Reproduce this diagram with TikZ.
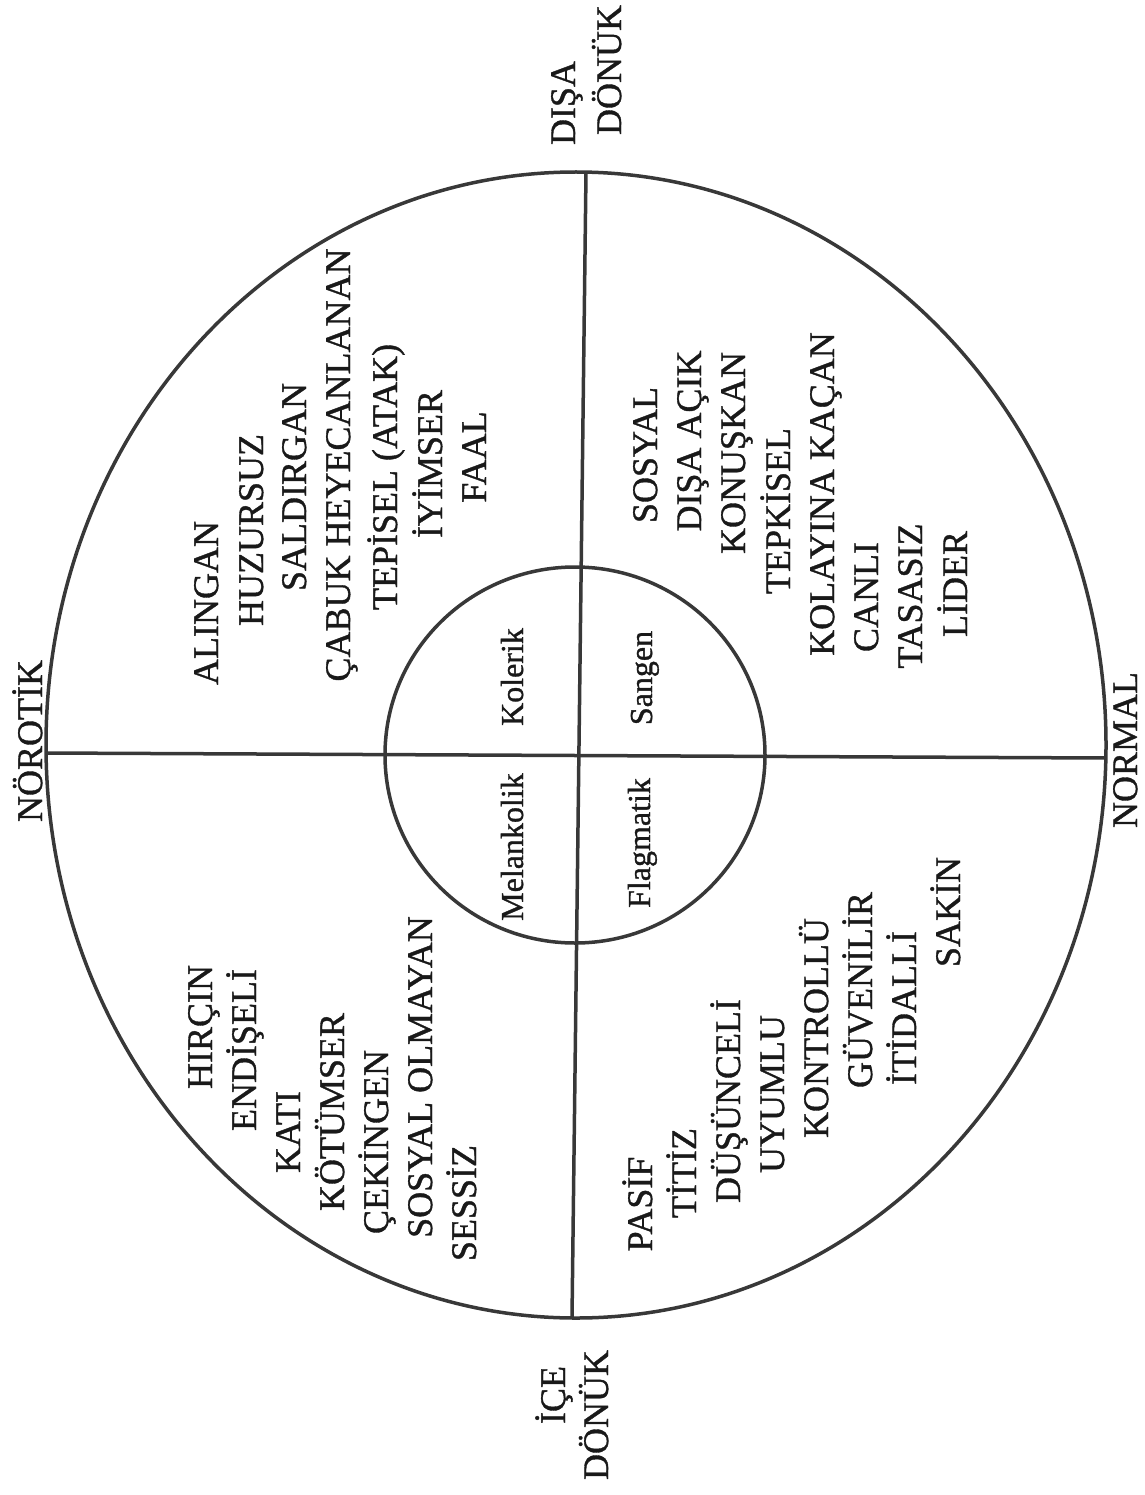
\documentclass[tikz,border=0pt]{standalone}
\usepackage{fontspec}
\usetikzlibrary{shapes.geometric}
\setmainfont[FakeBold=1]{Liberation Serif}
\begin{document}
\begin{tikzpicture}[x=1pt,y=-1pt,
  frame/.style={draw=black!78, line width=3.5pt},
  ring/.style={frame, ellipse, inner sep=0pt},
  word/.style={rotate=90, anchor=base, inner sep=0pt, text=black!90,
    font=\fontsize{36}{44}\selectfont},
  temper/.style={word, font=\fontsize{32}{38}\selectfont}]
\useasboundingbox (0,0) rectangle (1144,1495);
% circles
\node[ring, minimum width=1060pt, minimum height=1146pt] (outer) at (576,745) {};
\node[ring, minimum width=380pt, minimum height=376pt] (inner) at (575,755) {};
% axis ends
\coordinate (top) at (586,172);
\coordinate (bottom) at (572,1318);
\coordinate (left) at (46,753);
\coordinate (right) at (1106,758);
\draw[frame] (top) -- (bottom);
\draw[frame] (left) -- (right);
% axis labels
\node[word] (disa) at (575,103) {DIŞA};
\node[word] (disadonuk) at (621,70) {DÖNÜK};
\node[word] (ice) at (565,1395) {İÇE};
\node[word] (icedonuk) at (608,1415) {DÖNÜK};
\node[word] (norotik) at (42,741) {NÖROTİK};
\node[word] (normal) at (1137,750) {NORMAL};
% temperaments
\node[temper] (kolerik) at (523,677) {Kolerik};
\node[temper] (sangen) at (652,678) {Sangen};
\node[temper] (melankolik) at (523,847) {Melankolik};
\node[temper] (flagmatik) at (650,843) {Flagmatik};
% Kolerik traits
\node[word] (k1) at (218,603) {ALINGAN};
\node[word] (k2) at (263,530) {HUZURSUZ};
\node[word] (k3) at (306,487) {SALDIRGAN};
\node[word] (k4) at (350,465) {ÇABUK HEYECANLANAN};
\node[word] (k5) at (397,477) {TEPİSEL (ATAK)};
\node[word] (k6) at (442,464) {İYİMSER};
\node[word] (k7) at (486,457) {FAAL};
% Sangen traits
\node[word] (s1) at (657,455) {SOSYAL};
\node[word] (s2) at (701,441) {DIŞA AÇIK};
\node[word] (s3) at (745,453) {KONUŞKAN};
\node[word] (s4) at (790,511) {TEPKİSEL};
\node[word] (s5) at (834,494) {KOLAYINA KAÇAN};
\node[word] (s6) at (878,597) {CANLI};
\node[word] (s7) at (922,596) {TASASIZ};
\node[word] (s8) at (967,584) {LİDER};
% Melankolik traits
\node[word] (m1) at (212,1027) {HIRÇIN};
\node[word] (m2) at (256,1050) {ENDİŞELİ};
\node[word] (m3) at (300,1132) {KATI};
\node[word] (m4) at (344,1112) {KÖTÜMSER};
\node[word] (m5) at (388,1142) {ÇEKİNGEN};
\node[word] (m6) at (432,1077) {SOSYAL OLMAYAN};
\node[word] (m7) at (476,1203) {SESSİZ};
% Flagmatik traits
\node[word] (f1) at (652,1204) {PASİF};
\node[word] (f2) at (696,1173) {TİTİZ};
\node[word] (f3) at (740,1101) {DÜŞÜNCELİ};
\node[word] (f4) at (784,1094) {UYUMLU};
\node[word] (f5) at (828,1028) {KONTROLLÜ};
\node[word] (f6) at (872,990) {GÜVENİLİR};
\node[word] (f7) at (916,1008) {İTİDALLİ};
\node[word] (f8) at (960,912) {SAKİN};
\end{tikzpicture}
\end{document}
